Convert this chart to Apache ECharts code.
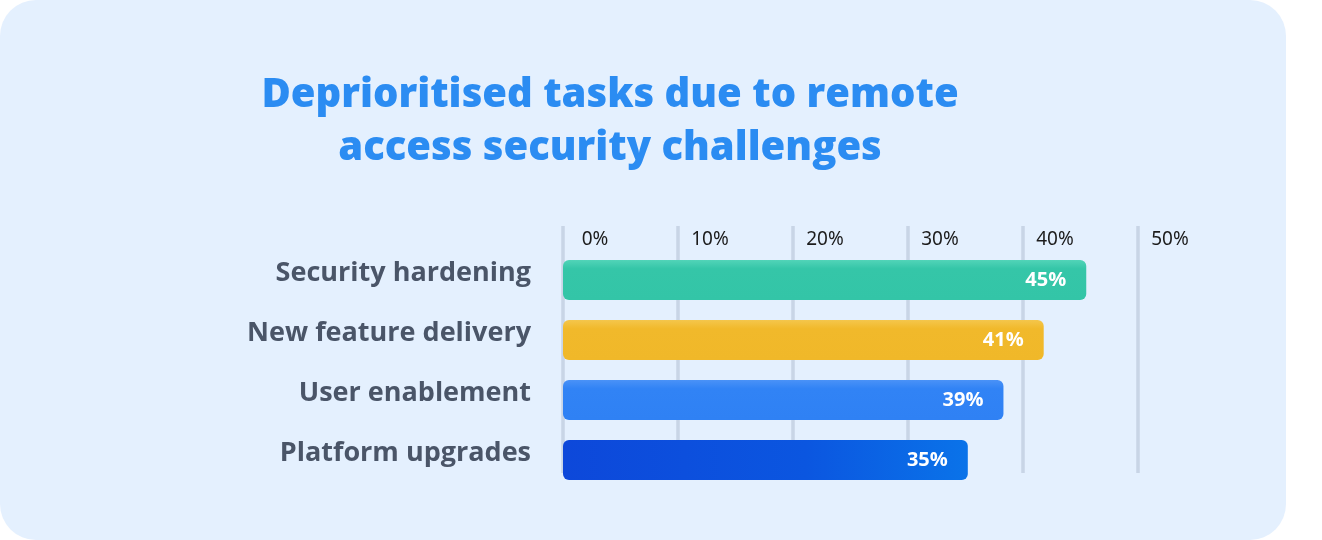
<!DOCTYPE html>
<html>
<head>
<meta charset="utf-8">
<script src="https://cdn.jsdelivr.net/npm/echarts@6/dist/echarts.min.js"></script>
<style>
  html, body { margin: 0; padding: 0; background: #ffffff; }
  #chart { width: 1322px; height: 540px; }
</style>
</head>
<body>
<div id="chart"></div>
<script>
// data
var categories = ['Security hardening', 'New feature delivery', 'User enablement', 'Platform upgrades'];
var barLengths = [45.5, 41.8, 38.3, 35.2];      // drawn length of each bar (%)
var valueLabels = ['45%', '41%', '39%', '35%']; // text printed on the bars
var tickValues = [0, 10, 20, 30, 40, 50];

var barColors = [
    new echarts.graphic.LinearGradient(0, 0, 0, 1, [
        {offset: 0, color: '#52d4b8'}, {offset: 0.22, color: '#35c6a8'}, {offset: 1, color: '#33c5a7'}
    ]),
    new echarts.graphic.LinearGradient(0, 0, 0, 1, [
        {offset: 0, color: '#f4c64c'}, {offset: 0.22, color: '#f1b92b'}, {offset: 1, color: '#f0b829'}
    ]),
    new echarts.graphic.LinearGradient(0, 0, 0, 1, [
        {offset: 0, color: '#4a92f7'}, {offset: 0.22, color: '#3183f5'}, {offset: 1, color: '#2f81f4'}
    ]),
    new echarts.graphic.LinearGradient(0, 0, 1, 0, [
        {offset: 0, color: '#0d48da'}, {offset: 0.6, color: '#0b56e0'}, {offset: 1, color: '#0a73e9'}
    ])
];

var chart = echarts.init(document.getElementById('chart'));

var option = {
    backgroundColor: '#ffffff',
    graphic: [{
        type: 'rect',
        z: -10,
        shape: {x: 0, y: 0, width: 1286, height: 540, r: 36},
        style: {fill: '#e4f0fe'}
    }],
    title: {
        text: 'Deprioritised tasks due to remote\naccess security challenges',
        left: 605,
        top: 64,
        textAlign: 'center',
        textStyle: {
            fontFamily: 'Open Sans',
            fontWeight: 800,
            fontSize: 40,
            lineHeight: 53,
            color: '#2b8cf2'
        }
    },
    grid: [
        // bars
        {left: 563, right: 1322 - 1138, top: 250, height: 240},
        // grid lines + tick labels
        {left: 563, right: 1322 - 1138, top: 226, height: 247}
    ],
    xAxis: [
        {
            gridIndex: 0, type: 'value', min: 0, max: 50, interval: 10,
            axisLine: {show: false}, axisTick: {show: false},
            axisLabel: {show: false}, splitLine: {show: false}
        },
        {
            gridIndex: 1, type: 'value', position: 'top', min: 0, max: 50, interval: 10,
            axisLine: {show: false}, axisTick: {show: false},
            splitLine: {show: true, lineStyle: {color: '#c8d5e6', width: 3.5}},
            axisLabel: {
                inside: true,
                margin: 4,
                align: 'center',
                padding: [0, 0, 0, 64],
                fontFamily: 'Noto Sans',
                fontSize: 19,
                color: '#1c1c1c',
                formatter: function (v) { return tickValues.indexOf(v) >= 0 ? v + '%' : ''; }
            }
        }
    ],
    yAxis: [
        {
            gridIndex: 0, type: 'category', data: categories, inverse: true,
            axisLine: {show: false}, axisTick: {show: false},
            axisLabel: {
                margin: 32,
                verticalAlign: 'bottom',
                lineHeight: 14,
                fontFamily: 'Open Sans',
                fontWeight: 'bold',
                fontSize: 27,
                color: '#4a5568'
            }
        },
        {
            gridIndex: 1, type: 'category', data: categories, inverse: true, show: false
        }
    ],
    series: [{
        type: 'bar',
        xAxisIndex: 0,
        yAxisIndex: 0,
        barWidth: 40,
        z: 5,
        data: barLengths.map(function (v, i) {
            return {
                value: v,
                itemStyle: {color: barColors[i], borderRadius: 6},
                label: {formatter: valueLabels[i]}
            };
        }),
        label: {
            show: true,
            position: 'insideRight',
            distance: 20,
            color: '#ffffff',
            fontFamily: 'Open Sans',
            fontWeight: 'bold',
            fontSize: 20
        }
    }]
};

chart.setOption(option);
</script>
</body>
</html>
